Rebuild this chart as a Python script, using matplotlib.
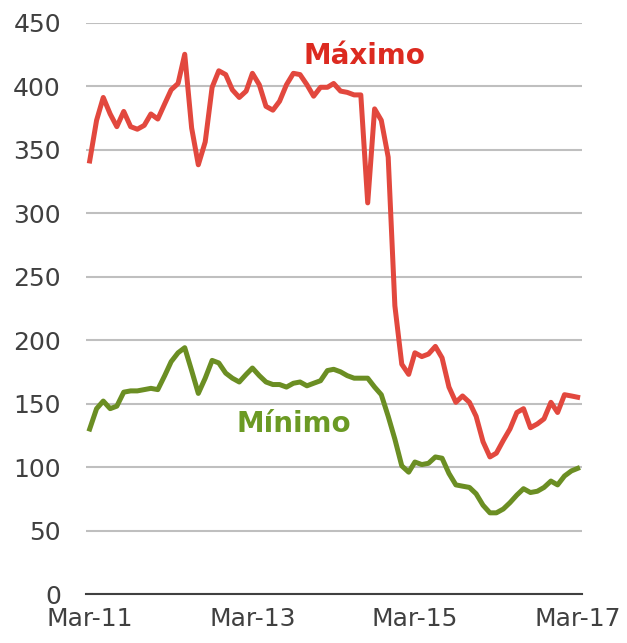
import numpy as np
import pandas as pd
import matplotlib
matplotlib.use("Agg")
import matplotlib.pyplot as plt
import matplotlib.dates as mdates

months = pd.date_range("2011-03-01", "2017-03-01", freq="MS")

maximo = [341, 373, 391, 378, 368, 380, 368, 366, 369, 378, 374, 386, 397, 402, 425,
          367, 338, 356, 399, 412, 409, 397, 391, 396, 410, 401, 384, 381, 388, 401,
          410, 409, 401, 392, 399, 399, 402, 396, 395, 393, 393, 308, 382, 373, 344,
          227, 181, 173, 190, 187, 189, 195, 186, 163, 151, 156, 151, 140, 120, 108,
          111, 121, 130, 143, 146, 131, 134, 138, 151, 143, 157, 156, 155]

minimo = [130, 146, 152, 146, 148, 159, 160, 160, 161, 162, 161, 172, 183, 190, 194,
          176, 158, 170, 184, 182, 174, 170, 167, 173, 178, 172, 167, 165, 165, 163,
          166, 167, 164, 166, 168, 176, 177, 175, 172, 170, 170, 170, 163, 157, 140,
          122, 101, 96, 104, 102, 103, 108, 107, 95, 86, 85, 84, 79, 70, 64,
          64, 67, 72, 78, 83, 80, 81, 84, 89, 86, 93, 97, 99]

y_ticks = [0, 50, 100, 150, 200, 250, 300, 350, 400, 450]
x_ticks = ["2011-03-01", "2013-03-01", "2015-03-01", "2017-03-01"]

red = "#E2483E"
green = "#6B8E23"

fig = plt.figure(figsize=(6.27, 6.43), dpi=100)
ax = fig.add_axes([0.137, 0.076, 0.791, 0.889])

ax.plot(months, maximo, color=red, lw=3.6, solid_joinstyle="round", zorder=3)
ax.plot(months, minimo, color=green, lw=3.6, solid_joinstyle="round", zorder=3)

# series labels
ax.text(pd.Timestamp("2014-07-16"), 417, "Máximo", color="#DC2A20",
        fontsize=20, fontweight="bold", ha="center", va="baseline")
ax.text(pd.Timestamp("2013-09-01"), 128, "Mínimo", color="#6B9A24",
        fontsize=20, fontweight="bold", ha="center", va="baseline")

ax.set_ylim(0, 450)
ax.set_yticks(y_ticks)
ax.set_xlim(pd.Timestamp("2011-02-12"), pd.Timestamp("2017-03-20"))
ax.set_xticks(pd.to_datetime(x_ticks))
ax.xaxis.set_major_formatter(mdates.DateFormatter("%b-%y"))

ax.grid(axis="y", color="#BFBFBF", lw=1.5)
ax.set_axisbelow(True)
for s in ["left", "right", "top"]:
    ax.spines[s].set_visible(False)
ax.spines["bottom"].set_color("#404040")
ax.spines["bottom"].set_linewidth(1.5)
ax.tick_params(length=0, labelsize=18, colors="#404040")
ax.tick_params(axis="y", pad=18)
ax.tick_params(axis="x", pad=9)

fig.savefig("out.png", dpi=100)
